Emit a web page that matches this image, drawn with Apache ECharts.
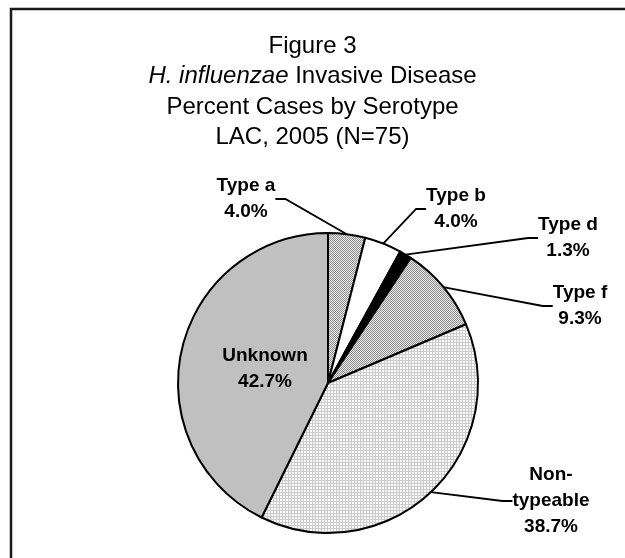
<!DOCTYPE html>
<html>
<head>
<meta charset="utf-8">
<script src="https://cdn.jsdelivr.net/npm/echarts@6/dist/echarts.min.js"></script>
<style>
html,body{margin:0;padding:0;background:#fff;}
#chart{width:625px;height:558px;}
</style>
</head>
<body>
<div id="chart"></div>
<script>
// ---- data ----
const categories = ['Type a', 'Type b', 'Type d', 'Type f', 'Non-typeable', 'Unknown'];
const percents = [4.0, 4.0, 1.3, 9.3, 38.7, 42.7];
const titleLines = ['Figure 3', 'H. influenzae', 'Invasive Disease', 'Percent Cases by Serotype', 'LAC, 2005 (N=75)'];

// ---- styles ----
function makePattern(size, bg, fg, cells) {
  const c = document.createElement('canvas');
  c.width = size; c.height = size;
  const ctx = c.getContext('2d');
  ctx.fillStyle = bg; ctx.fillRect(0, 0, size, size);
  ctx.fillStyle = fg;
  cells.forEach(p => ctx.fillRect(p[0], p[1], 1, 1));
  return { image: c, repeat: 'repeat' };
}
const densePat = makePattern(2, '#ececec', '#8c8c8c', [[0,0],[1,1]]);
const lightPat = makePattern(3, '#ffffff', '#cccccc', [[0,0],[1,0],[2,0],[0,1],[0,2]]);
const sliceFills = [densePat, '#ffffff', '#000000', densePat, lightPat, '#c0c0c0'];
const labelPos = {0: [246, 199], 1: [456, 209], 2: [568, 238], 3: [580, 306], 4: [551, 501], 5: [265, 369]};

const chart = echarts.init(document.getElementById('chart'), null, {renderer: 'canvas'});
const fontFamily = '"Liberation Sans", Arial, sans-serif';

const pieData = categories.map((name, i) => ({
  name: name,
  value: percents[i],
  itemStyle: { color: sliceFills[i] },
  label: i === 5 ? { position: 'inside' } : { position: 'outside' },
  labelLine: { show: i !== 5 }
}));

chart.setOption({
  animation: false,
  backgroundColor: '#ffffff',
  title: {
    text: '{n|' + titleLines[0] + '}\n{i|' + titleLines[1] + '}{n| ' + titleLines[2] + '}\n{n|' + titleLines[3] + '}\n{n|' + titleLines[4] + '}',
    left: 'center',
    top: 26,
    textStyle: {
      fontFamily: fontFamily,
      fontSize: 24,
      fontWeight: 'normal',
      color: '#000',
      lineHeight: 30.5,
      rich: {
        n: { fontFamily: fontFamily, fontSize: 24, color: '#000', lineHeight: 30.5 },
        i: { fontFamily: fontFamily, fontSize: 24, color: '#000', fontStyle: 'italic', lineHeight: 30.5 }
      }
    }
  },
  graphic: [{
    type: 'rect',
    shape: { x: 11, y: 9, width: 800, height: 800 },
    style: { fill: 'none', stroke: '#1a1a1a', lineWidth: 2.5 },
    silent: true,
    z: 100
  }],
  series: [{
    type: 'pie',
    center: [328, 383],
    radius: 150,
    startAngle: 90,
    clockwise: true,
    avoidLabelOverlap: false,
    percentPrecision: 1,
    itemStyle: { borderColor: '#000', borderWidth: 2 },
    emphasis: { disabled: true },
    label: {
      show: true,
      fontFamily: fontFamily,
      fontSize: 19,
      fontWeight: 'bold',
      color: '#000',
      lineHeight: 26,
      align: 'center',
      formatter: p => p.name.replace('-', '-\n') + '\n' + p.value.toFixed(1) + '%'
    },
    labelLine: {
      show: true,
      length: 15,
      length2: 10,
      lineStyle: { color: '#000', width: 1.8 }
    },
    labelLayout: function (params) {
      const p = labelPos[params.dataIndex];
      if (!p) return {};
      return { x: p[0], y: p[1], align: 'center', verticalAlign: 'middle' };
    },
    data: pieData
  }]
});
</script>
</body>
</html>
